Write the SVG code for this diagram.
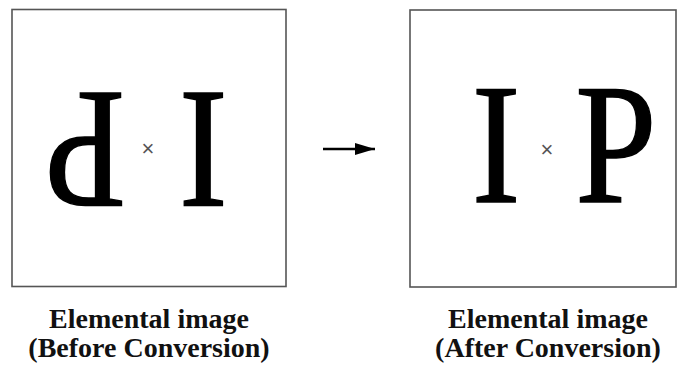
<svg xmlns="http://www.w3.org/2000/svg" width="677" height="367" viewBox="0 0 677 367">
<style>
.box{fill:#fff;stroke:#555;stroke-width:1.6}
.glyph{font-family:"Liberation Serif","Times New Roman",serif;font-size:172px;fill:#000;stroke:#000;stroke-width:1.5;text-anchor:middle}
.mark{font-family:"Liberation Sans",Arial,sans-serif;font-size:22px;fill:#555;text-anchor:middle}
.label{font-family:"Liberation Serif","Times New Roman",serif;font-size:28px;font-weight:bold;fill:#111;text-anchor:middle}
</style>
<defs>
<marker id="ah" viewBox="0 0 20 12" refX="20" refY="6" markerWidth="20" markerHeight="12" markerUnits="userSpaceOnUse" orient="auto">
<path d="M0,0 L20,6 L0,12 Z" fill="#000"/>
</marker>
</defs>
<rect width="677" height="367" fill="#fff"/>
<g id="before">
<rect class="box" x="12" y="9.5" width="274" height="277"/>
<text class="glyph" transform="translate(85,93) rotate(180) scale(0.85,1)" x="0" y="0">P</text>
<text class="glyph" transform="translate(203.5,93) rotate(180) scale(0.85,1)" x="0" y="0">I</text>
<text class="mark" x="148" y="156">×</text>
<text class="label" x="149" y="328">Elemental image</text>
<text class="label" x="149" y="357">(Before Conversion)</text>
</g>
<g id="after">
<rect class="box" x="410" y="10" width="266" height="277"/>
<text class="glyph" transform="translate(496,202) scale(0.85,1)" x="0" y="0">I</text>
<text class="glyph" transform="translate(616,202) scale(0.85,1)" x="0" y="0">P</text>
<text class="mark" x="547" y="157">×</text>
<text class="label" x="548" y="328">Elemental image</text>
<text class="label" x="548" y="357">(After Conversion)</text>
</g>
<g id="connectors">
<line x1="323" y1="149" x2="375" y2="149" stroke="#000" stroke-width="2.5" marker-end="url(#ah)"/>
</g>
</svg>
